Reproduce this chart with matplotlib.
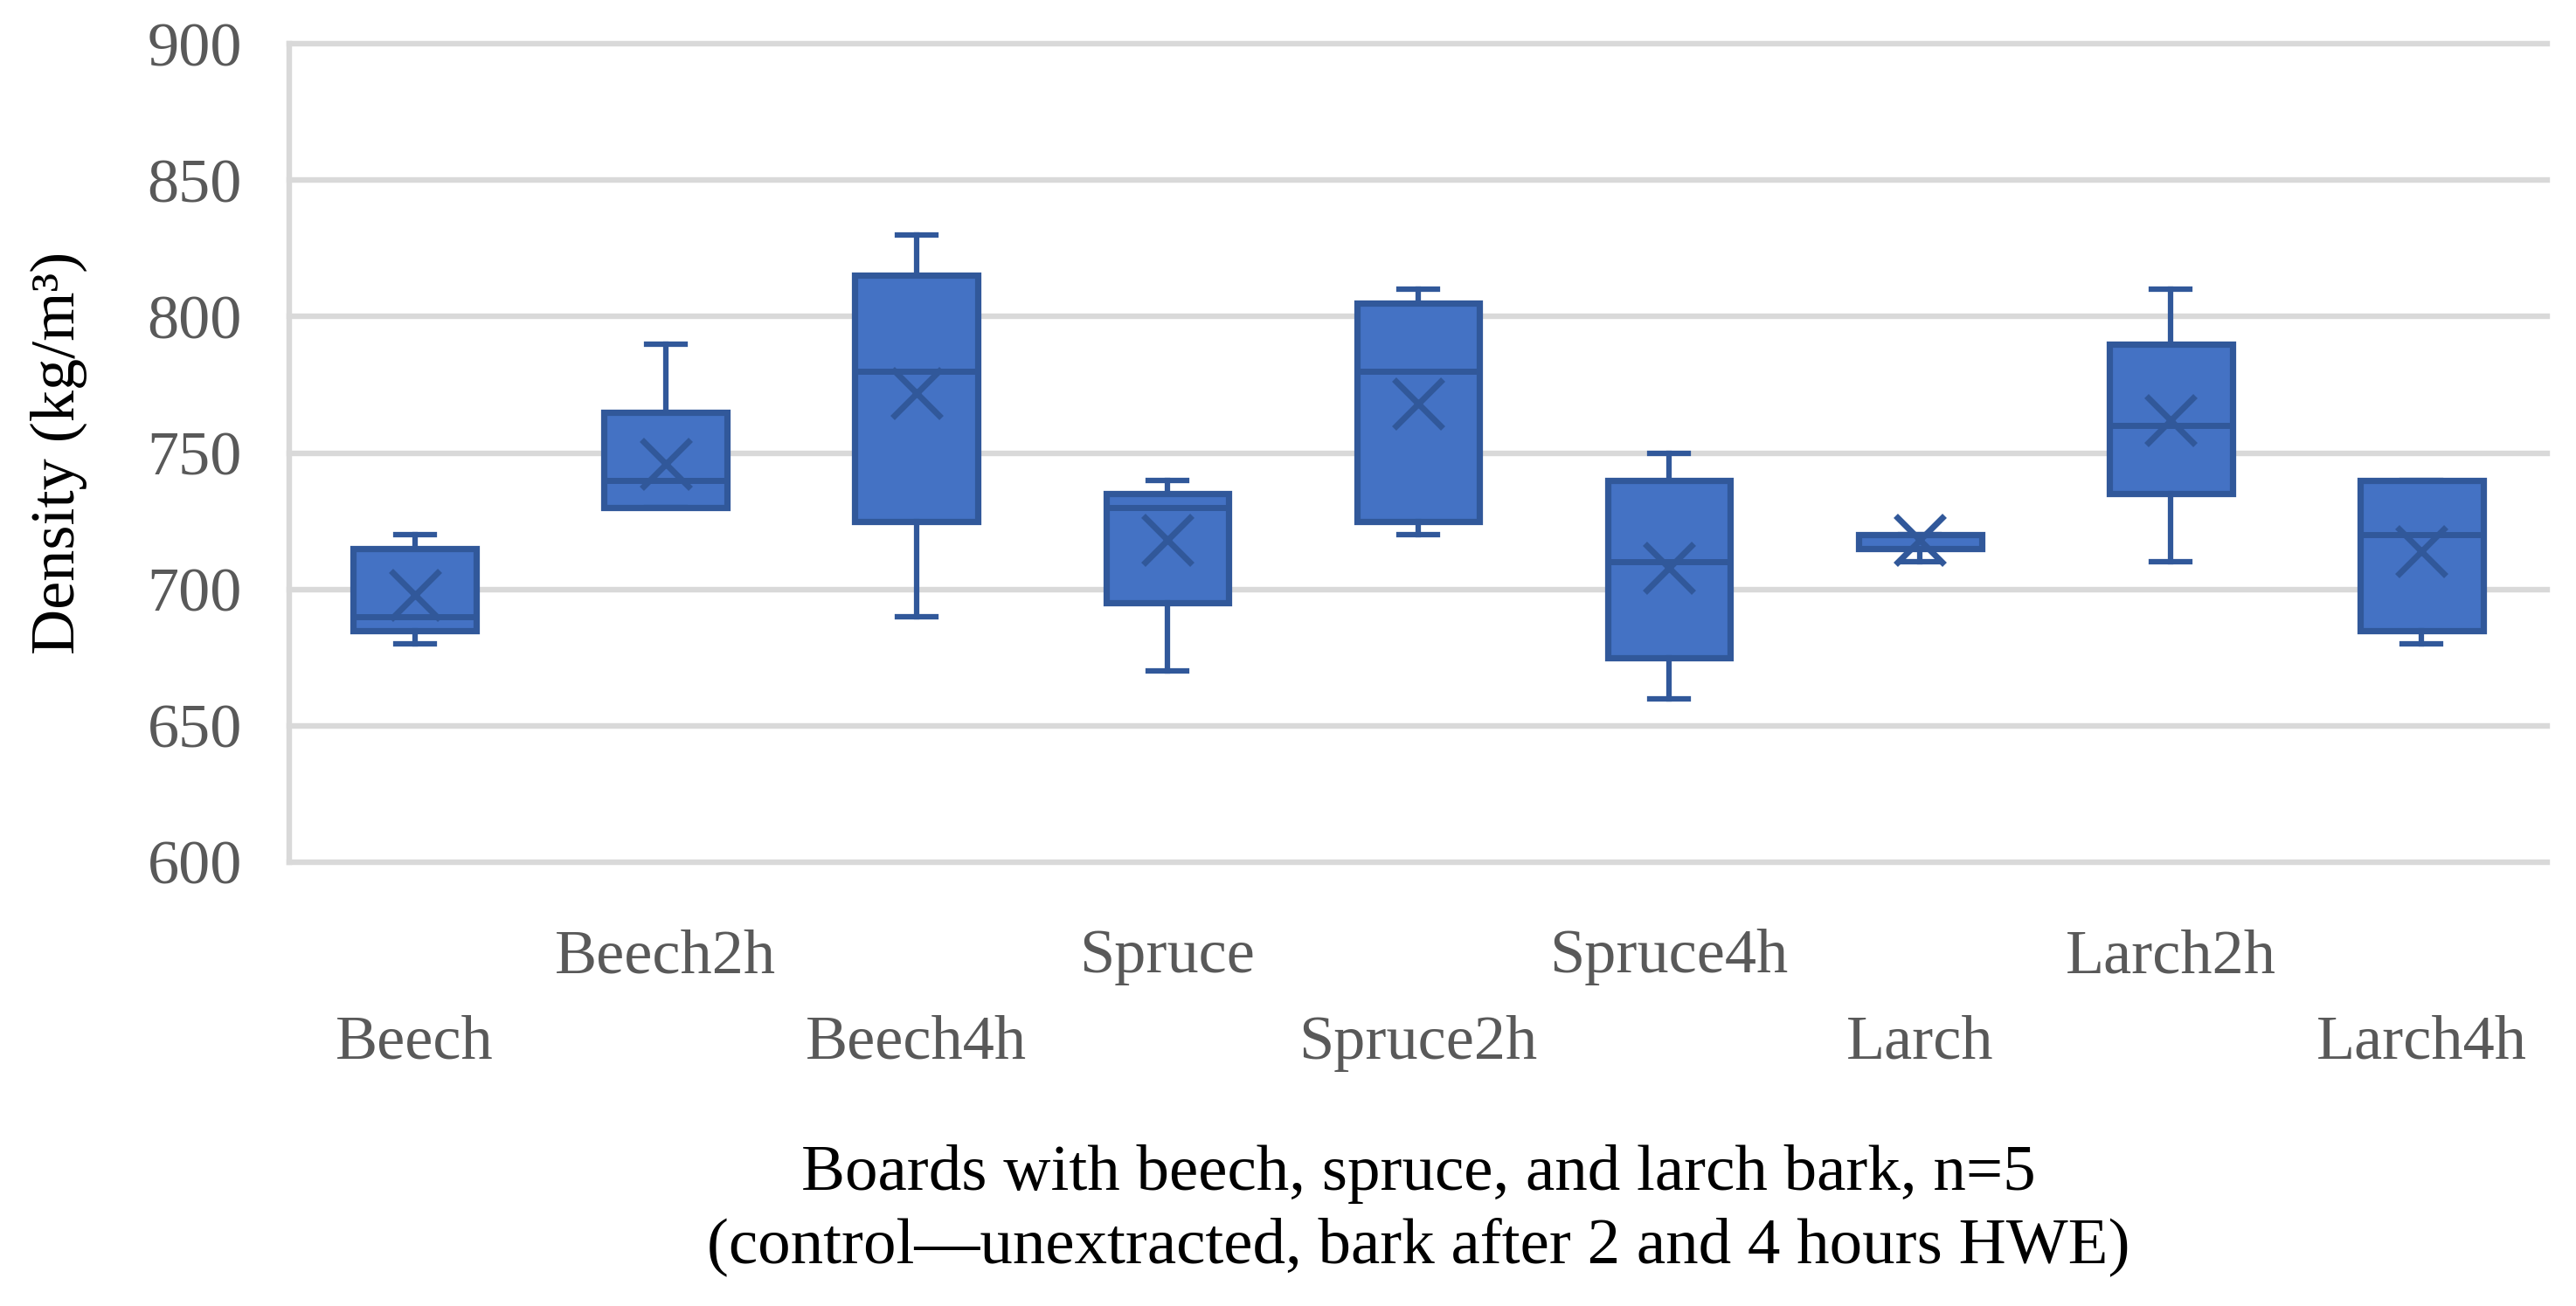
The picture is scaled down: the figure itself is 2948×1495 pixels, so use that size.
import matplotlib
matplotlib.use("Agg")
import matplotlib.pyplot as plt

# five-number summaries (kg/m3), n=5 boards each
categories = ["Beech", "Beech2h", "Beech4h", "Spruce", "Spruce2h",
              "Spruce4h", "Larch", "Larch2h", "Larch4h"]
whisker_low = [680, 730, 690, 670, 720, 660, 710, 710, 680]
q1 = [685, 730, 725, 695, 725, 675, 715, 735, 685]
medians = [690, 740, 780, 730, 780, 710, 720, 760, 720]
q3 = [715, 765, 815, 735, 805, 740, 720, 790, 740]
whisker_high = [720, 790, 830, 740, 810, 750, 720, 810, 740]
means = [698, 746, 772, 718, 768, 708, 718, 762, 714]

yticks = [600, 650, 700, 750, 800, 850, 900]

fill = "#4472C4"
edge = "#31589A"
grid = "#D9D9D9"

plt.rcParams["font.family"] = ["Liberation Serif", "DejaVu Serif"]
fs = 52

stats = []
for i, name in enumerate(categories):
    stats.append(dict(label=name, whislo=whisker_low[i], q1=q1[i],
                      med=medians[i], q3=q3[i], whishi=whisker_high[i],
                      mean=means[i], fliers=[]))

W, H = 2948, 1495
fig = plt.figure(figsize=(W / 100, H / 100), dpi=100)
ax = fig.add_axes([331 / W, 1 - 987 / H, (2915 - 331) / W, (987 - 50) / H])

ax.bxp(stats, positions=range(len(categories)), widths=0.49, capwidths=0.153,
       patch_artist=True, showmeans=True,
       boxprops=dict(facecolor=fill, edgecolor=edge, linewidth=5.2),
       medianprops=dict(color=edge, linewidth=5.0),
       whiskerprops=dict(color=edge, linewidth=4.5),
       capprops=dict(color=edge, linewidth=4.5),
       meanprops=dict(marker="x", markersize=40, markeredgecolor=edge,
                      markeredgewidth=5.0))

ax.set_xlim(-0.5, len(categories) - 0.5)
ax.set_ylim(600, 900)
ax.set_yticks(yticks)
ax.set_axisbelow(True)
ax.yaxis.grid(True, color=grid, linewidth=4.6)
for gl in ax.get_ygridlines():
    gl.set_clip_on(False)

for s in ["top", "right", "bottom"]:
    ax.spines[s].set_visible(False)
ax.spines["left"].set_color(grid)
ax.spines["left"].set_linewidth(4.6)

ax.tick_params(axis="both", length=0, labelsize=fs, labelcolor="#595959")
ax.tick_params(axis="y", pad=39)
ax.set_xticks(range(len(categories)))
ax.set_xticklabels(categories)
# staggered category labels, as in the original
for i, tick in enumerate(ax.xaxis.get_major_ticks()):
    tick.set_pad(55 if i % 2 == 1 else 126)

ax.set_ylabel("Density (kg/m³)", fontsize=fs, color="black")
ax.yaxis.set_label_coords(-0.0894, 0.5)
ax.set_xlabel("Boards with beech, spruce, and larch bark, n=5\n"
              "(control—unextracted, bark after 2 and 4 hours HWE)",
              fontsize=54, color="black", linespacing=1.3)
ax.xaxis.set_label_coords(0.5, -0.345)

fig.savefig("out.png", dpi=100)
